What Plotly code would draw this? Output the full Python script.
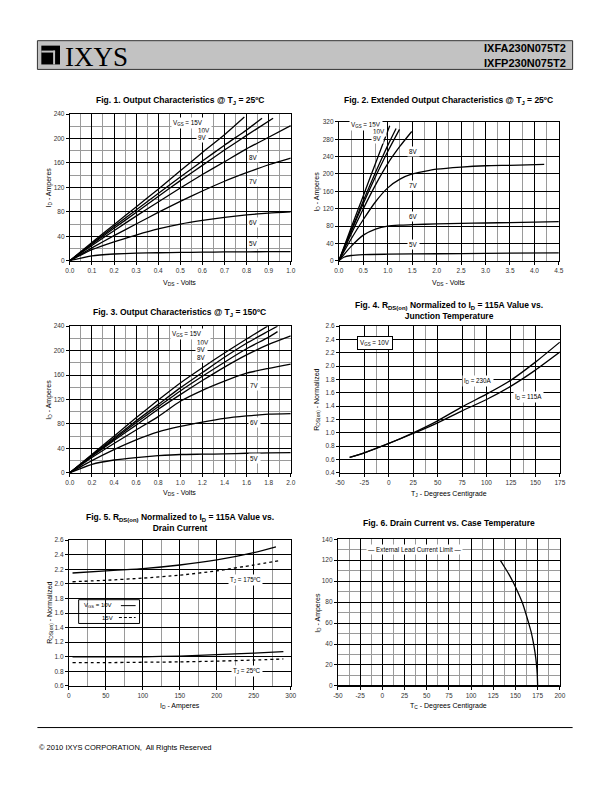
import plotly.graph_objects as go

# ---- Fig. 1: output characteristics @ 25C (VDS volts, ID amperes)
f1_15_x = [0, 0.1, 0.2, 0.3, 0.4, 0.5, 0.6, 0.7, 0.79]
f1_15_y = [0, 30, 59, 88, 117, 147, 177, 206, 235]
f1_10_x = [0, 0.1, 0.2, 0.3, 0.4, 0.5, 0.6, 0.7, 0.8, 0.87]
f1_10_y = [0, 28, 56, 83, 110, 137, 163, 189, 214, 233]
f1_9_x = [0, 0.1, 0.2, 0.3, 0.4, 0.5, 0.6, 0.7, 0.8, 0.92]
f1_9_y = [0, 27, 53, 79, 105, 131, 156, 181, 205, 233]
f1_x = [0, 0.1, 0.2, 0.3, 0.4, 0.5, 0.6, 0.7, 0.8, 0.9, 1.0]
f1_8_y = [0, 25, 49, 73, 96, 119, 141, 162, 183, 202, 221]
f1_7_y = [0, 21, 41, 60, 79, 97, 114, 130, 144, 157, 168]
f1_6_y = [0, 18, 31, 42, 52, 60, 66, 71, 75, 78, 80]
f1_5_y = [0, 8, 11, 12.5, 13, 13.5, 14, 14.3, 14.6, 14.8, 15]

# ---- Fig. 2: extended output characteristics @ 25C
f2_15_x = [0, 0.25, 0.5, 0.75, 1.04]
f2_15_y = [0, 76, 150, 225, 311]
f2_10_x = [0, 0.25, 0.5, 0.75, 1.0, 1.17]
f2_10_y = [0, 70, 138, 204, 266, 305]
f2_9_x = [0, 0.25, 0.5, 0.75, 1.0, 1.24]
f2_9_y = [0, 67, 132, 194, 252, 303]
f2_8_x = [0, 0.25, 0.5, 0.75, 1.0, 1.25, 1.49]
f2_8_y = [0, 61, 120, 175, 224, 264, 298]
f2_7_x = [0, 0.25, 0.5, 0.75, 1.0, 1.25, 1.5, 1.75, 2.0, 2.5, 3.0, 3.5, 4.2]
f2_7_y = [0, 50, 95, 136, 168, 188, 200, 206, 211, 216, 219, 220, 222]
f2_6_x = [0, 0.25, 0.5, 0.75, 1.0, 1.25, 1.5, 2.0, 2.5, 3.0, 3.5, 4.0, 4.5]
f2_6_y = [0, 33, 59, 73, 80, 82, 83, 85, 86, 87, 88, 89, 90]
f2_5_x = [0, 0.1, 0.25, 0.5, 1.0, 2.0, 3.0, 4.5]
f2_5_y = [0, 8, 12, 14, 15, 16, 17, 18]

# ---- Fig. 3: output characteristics @ 150C
f3_15_x = [0, 0.2, 0.4, 0.6, 0.8, 1.0, 1.2, 1.4, 1.6, 1.79]
f3_15_y = [0, 30, 60, 90, 119, 147, 172, 196, 219, 240]
f3_10_x = [0, 0.2, 0.4, 0.6, 0.8, 1.0, 1.2, 1.4, 1.6, 1.8, 1.88]
f3_10_y = [0, 29, 57, 85, 112, 139, 164, 189, 212, 232, 240]
f3_9_x = [0, 0.2, 0.4, 0.6, 0.8, 1.0, 1.2, 1.4, 1.6, 1.8, 1.88]
f3_9_y = [0, 28, 55, 82, 108, 134, 158, 181, 203, 222, 231]
f3_x = [0, 0.2, 0.4, 0.6, 0.8, 1.0, 1.2, 1.4, 1.6, 1.8, 2.0]
f3_8_y = [0, 27, 53, 78, 104, 128, 151, 173, 193, 210, 224]
f3_7_y = [0, 25, 48, 70, 92, 117, 135, 150, 163, 171, 178]
f3_6_y = [0, 20, 38, 54, 67, 76, 83, 89, 93, 96, 97]
f3_5_y = [0, 14, 21, 25, 28, 30, 30.5, 31, 32, 32.5, 33]

# ---- Fig. 4: RDS(on) normalized vs junction temperature
f4_t = [-40, -25, 0, 25, 50, 75, 100, 125, 150, 175]
f4_230 = [0.63, 0.70, 0.84, 1.00, 1.18, 1.39, 1.58, 1.79, 2.06, 2.36]
f4_115 = [0.63, 0.70, 0.84, 0.99, 1.15, 1.33, 1.50, 1.70, 1.94, 2.21]

# ---- Fig. 5: RDS(on) normalized vs drain current
f5_175_10_x = [5, 50, 100, 150, 200, 250, 280]
f5_175_10_y = [2.15, 2.18, 2.21, 2.26, 2.33, 2.43, 2.51]
f5_175_15_x = [5, 50, 100, 150, 200, 250, 285]
f5_175_15_y = [2.03, 2.05, 2.08, 2.12, 2.18, 2.26, 2.32]
f5_25_x = [5, 50, 100, 150, 200, 250, 290]
f5_25_10_y = [1.00, 1.00, 1.00, 1.01, 1.03, 1.05, 1.07]
f5_25_15_y = [0.92, 0.92, 0.925, 0.93, 0.94, 0.955, 0.97]

# ---- Fig. 6: drain current vs case temperature
f6_t = [132.8, 138, 143, 148, 153, 157.5, 161, 164.5, 167.5, 170, 172, 173.5, 174.5, 175]
f6_i = [120, 113, 106, 98, 89, 80, 71, 61, 52, 42, 32, 22, 12, 0]

# tick labels written with a plain hyphen, as on the datasheet
temp_ticks_4 = [-50, -25, 0, 25, 50, 75, 100, 125, 150, 175]
temp_ticks_6 = [-50, -25, 0, 25, 50, 75, 100, 125, 150, 175, 200]

W, H = 612, 792
FONT = "Liberation Sans, Arial, sans-serif"
TFONT = "Liberation Sans Narrow, Arial Narrow, Liberation Sans, sans-serif"

# plot areas in page pixels: x0, x1, y0(top), y1(bottom)
areas = {
    1: (66, 291, 111, 259),
    2: (340, 564, 119, 259),
    3: (66, 291, 325, 473),
    4: (341, 565, 325, 473),
    5: (65, 291, 541, 688),
    6: (339, 565, 540, 688),
}


def axis(n, which, rng, dtick, minor=None, minor_vals=None, fmt=None, ticks=None):
    x0, x1, y0, y1 = areas[n]
    if which == "x":
        dom = [x0 / W, x1 / W]
    else:
        dom = [1 - y1 / H, 1 - y0 / H]
    a = dict(
        domain=dom, range=rng, dtick=dtick, tick0=rng[0],
        showline=True, linecolor="black", linewidth=1, mirror=True,
        ticks="outside", ticklen=3, tickcolor="black", tickwidth=1,
        tickfont=dict(family=FONT, size=6.5, color="#333"),
        showgrid=True, gridcolor="black", gridwidth=1, zeroline=False,
        anchor=("y" if which == "x" else "x") + ("" if n == 1 else str(n)),
        fixedrange=True,
    )
    if fmt:
        a["tickformat"] = fmt
    if ticks is not None:
        a["tickmode"] = "array"
        a["tickvals"] = ticks
        a["ticktext"] = [str(t) for t in ticks]
    if minor is not None or minor_vals is not None:
        m = dict(showgrid=True, gridcolor="#9a9a9a", gridwidth=1, ticks="")
        if minor_vals is not None:
            m["tickvals"] = minor_vals
        else:
            m["dtick"] = minor
            m["tick0"] = rng[0]
        a["minor"] = m
    return a


fig = go.Figure()


def line(n, x, y, dash="solid"):
    s = "" if n == 1 else str(n)
    fig.add_trace(go.Scatter(x=x, y=y, mode="lines", xaxis="x" + s, yaxis="y" + s,
                             line=dict(color="black", width=1.3, dash=dash, shape="spline",
                                       smoothing=0.6),
                             showlegend=False, hoverinfo="skip"))


line(1, f1_15_x, f1_15_y)
line(1, f1_10_x, f1_10_y)
line(1, f1_9_x, f1_9_y)
for yy in (f1_8_y, f1_7_y, f1_6_y, f1_5_y):
    line(1, f1_x, yy)

for xx, yy in ((f2_15_x, f2_15_y), (f2_10_x, f2_10_y), (f2_9_x, f2_9_y), (f2_8_x, f2_8_y),
               (f2_7_x, f2_7_y), (f2_6_x, f2_6_y), (f2_5_x, f2_5_y)):
    line(2, xx, yy)

line(3, f3_15_x, f3_15_y)
line(3, f3_10_x, f3_10_y)
line(3, f3_9_x, f3_9_y)
for yy in (f3_8_y, f3_7_y, f3_6_y, f3_5_y):
    line(3, f3_x, yy)

line(4, f4_t, f4_230)
line(4, f4_t, f4_115)

line(5, f5_175_10_x, f5_175_10_y)
line(5, f5_175_15_x, f5_175_15_y, dash="3px,3px")
line(5, f5_25_x, f5_25_10_y)
line(5, f5_25_x, f5_25_15_y, dash="3px,3px")

line(6, f6_t, f6_i)

layout = dict(
    width=W, height=H, margin=dict(l=0, r=0, t=0, b=0),
    paper_bgcolor="white", plot_bgcolor="white",
    font=dict(family=FONT, color="black"),
    xaxis=axis(1, "x", [0, 1], 0.1, minor=0.05, fmt=".1f"),
    yaxis=axis(1, "y", [0, 240], 40, minor=20),
    xaxis2=axis(2, "x", [0, 4.5], 0.5, minor=0.25, fmt=".1f"),
    yaxis2=axis(2, "y", [0, 320], 40),
    xaxis3=axis(3, "x", [0, 2], 0.2, minor=0.1, fmt=".1f"),
    yaxis3=axis(3, "y", [0, 240], 40, minor=20),
    xaxis4=axis(4, "x", [-50, 175], 25, minor_vals=[-12.5, 37.5, 87.5, 137.5], ticks=temp_ticks_4),
    yaxis4=axis(4, "y", [0.4, 2.6], 0.2, fmt=".1f"),
    xaxis5=axis(5, "x", [0, 300], 50, minor=25),
    yaxis5=axis(5, "y", [0.6, 2.6], 0.2, fmt=".1f"),
    xaxis6=axis(6, "x", [-50, 200], 25, minor=12.5, ticks=temp_ticks_6),
    yaxis6=axis(6, "y", [0, 140], 20, minor=10),
)
fig.update_layout(**layout)

ann = []


def ptext(x, y, text, size=7, bold=False, xanchor="center", angle=0, family=FONT, yanchor="middle"):
    ann.append(dict(x=x / W, y=1 - y / H, xref="paper", yref="paper", text=text,
                    showarrow=False, xanchor=xanchor, yanchor=yanchor, textangle=angle,
                    font=dict(family=family, size=size, color="black",
                              weight="bold" if bold else "normal")))


def dtext(n, x, y, text, xanchor="left", size=6.3):
    s = "" if n == 1 else str(n)
    ann.append(dict(x=x, y=y, xref="x" + s, yref="y" + s, text=text, showarrow=False,
                    xanchor=xanchor, yanchor="middle", bgcolor="white", borderpad=1,
                    font=dict(family=FONT, size=size, color="black")))


# chart titles
ptext(178, 97, "Fig. 1. Output Characteristics @ T<sub>J</sub> = 25ºC", 8.5, True, family=TFONT)
ptext(452, 97, "Fig. 2. Extended Output Characteristics @ T<sub>J</sub> = 25ºC", 8.5, True, family=TFONT)
ptext(178, 311, "Fig. 3. Output Characteristics @ T<sub>J</sub> = 150ºC", 8.5, True, family=TFONT)
ptext(452, 309, "Fig. 4. R<sub>DS(on)</sub> Normalized to I<sub>D</sub> = 115A Value vs.<br>Junction Temperature",
      8.5, True, family=TFONT)
ptext(178, 523, "Fig. 5. R<sub>DS(on)</sub> Normalized to I<sub>D</sub> = 115A Value vs.<br>Drain Current",
      8.5, True, family=TFONT)
ptext(452, 524, "Fig. 6. Drain Current vs. Case Temperature", 8.5, True, family=TFONT)

# axis titles
ptext(178, 281, "V<sub>DS</sub> - Volts", 7)
ptext(452, 281, "V<sub>DS</sub> - Volts", 7)
ptext(178, 493, "V<sub>DS</sub> - Volts", 7)
ptext(452, 494, "T<sub>J</sub> - Degrees Centigrade", 7)
ptext(178, 708, "I<sub>D</sub> - Amperes", 7)
ptext(452, 708, "T<sub>C</sub> - Degrees Centigrade", 7)
ptext(45, 185, "I<sub>D</sub> - Amperes", 7, angle=-90)
ptext(318, 189, "I<sub>D</sub> - Amperes", 7, angle=-90)
ptext(45, 399, "I<sub>D</sub> - Amperes", 7, angle=-90)
ptext(318, 399, "R<sub>DS(on)</sub> - Normalized", 7, angle=-90)
ptext(45, 614, "R<sub>DS(on)</sub> - Normalized", 7, angle=-90)
ptext(318, 614, "I<sub>D</sub> - Amperes", 7, angle=-90)

# curve labels
dtext(1, 0.46, 226, "V<sub>GS</sub> = 15V")
dtext(1, 0.57, 213, "10V")
dtext(1, 0.57, 201, "9V")
dtext(1, 0.80, 169, "8V")
dtext(1, 0.80, 130, "7V")
dtext(1, 0.80, 62, "6V")
dtext(1, 0.80, 28, "5V")

dtext(2, 0.2, 314, "V<sub>GS</sub> = 15V")
dtext(2, 0.65, 298, "10V")
dtext(2, 0.65, 282, "9V")
dtext(2, 1.39, 252, "8V")
dtext(2, 1.39, 174, "7V")
dtext(2, 1.39, 103, "6V")
dtext(2, 1.39, 37, "5V")

dtext(3, 0.91, 227, "V<sub>GS</sub> = 15V")
dtext(3, 1.13, 213, "10V")
dtext(3, 1.13, 201, "9V")
dtext(3, 1.13, 189, "8V")
dtext(3, 1.61, 143, "7V")
dtext(3, 1.61, 83, "6V")
dtext(3, 1.61, 23, "5V")

dtext(4, 75, 1.78, "I<sub>D</sub> = 230A")
dtext(4, 127, 1.54, "I<sub>D</sub> = 115A")
ann.append(dict(x=-32, y=2.35, xref="x4", yref="y4", text="V<sub>GS</sub> = 10V", showarrow=False,
                xanchor="left", yanchor="middle", bgcolor="white", bordercolor="black",
                borderwidth=1, borderpad=2, font=dict(family=FONT, size=6.3, color="black")))

dtext(5, 215, 2.06, "T<sub>J</sub> = 175ºC")
dtext(5, 219, 0.81, "T<sub>J</sub> = 25ºC")

dtext(6, -18, 130, "— External Lead Current Limit —")

# header
ptext(59, 53, "IXYS", 27, xanchor="left", family="Liberation Serif, Times New Roman, serif")
ptext(573, 44, "IXFA230N075T2", 11, True, xanchor="right")
ptext(573, 60, "IXFP230N075T2", 11, True, xanchor="right")

# footer
ptext(33, 750, "© 2010 IXYS CORPORATION,  All Rights Reserved", 7.5, xanchor="left")

# fig 5 legend box text
ptext(78, 607, "V<sub>GS</sub> = 10V", 6, xanchor="left")
ptext(97, 619, "15V", 6, xanchor="left")

fig.update_layout(annotations=ann)


def px_rect(x0, y0, x1, y1, fill, line_color=None, lw=0):
    return dict(type="rect", xref="paper", yref="paper", x0=x0 / W, x1=x1 / W,
                y0=1 - y1 / H, y1=1 - y0 / H, fillcolor=fill, layer="above",
                line=dict(color=line_color or fill, width=lw))


def px_line(x0, y0, x1, y1, dash="solid", lw=1):
    return dict(type="line", xref="paper", yref="paper", x0=x0 / W, x1=x1 / W,
                y0=1 - y0 / H, y1=1 - y1 / H, layer="above",
                line=dict(color="black", width=lw, dash=dash))


shapes = [
    dict(type="rect", xref="paper", yref="paper", x0=33 / W, x1=578 / W, y0=1 - 66 / H, y1=1 - 37 / H,
         fillcolor="#c2c2c2", line=dict(color="#333", width=1), layer="below"),
    px_rect(37, 42, 56, 61, "black"),
    px_rect(37, 47, 51, 49, "#c2c2c2"),
    px_rect(49, 47, 51, 61, "#c2c2c2"),
    px_line(33, 730, 578, 730),
    # fig 5 legend box
    px_rect(75, 601, 137, 625, "rgba(255,255,255,0)", "black", 1),
    px_line(118, 607, 133, 607),
    px_line(116, 619, 133, 619, dash="3px,2px"),
    # heavier bottom edge on fig 6
    dict(type="line", xref="x6", yref="paper", x0=-50, x1=200, y0=1 - 688 / H, y1=1 - 688 / H,
         layer="above", line=dict(color="black", width=2)),
]
fig.update_layout(shapes=shapes)

fig.write_html("out.html", config={"displayModeBar": False},
               post_script="document.body.style.margin='0';")
